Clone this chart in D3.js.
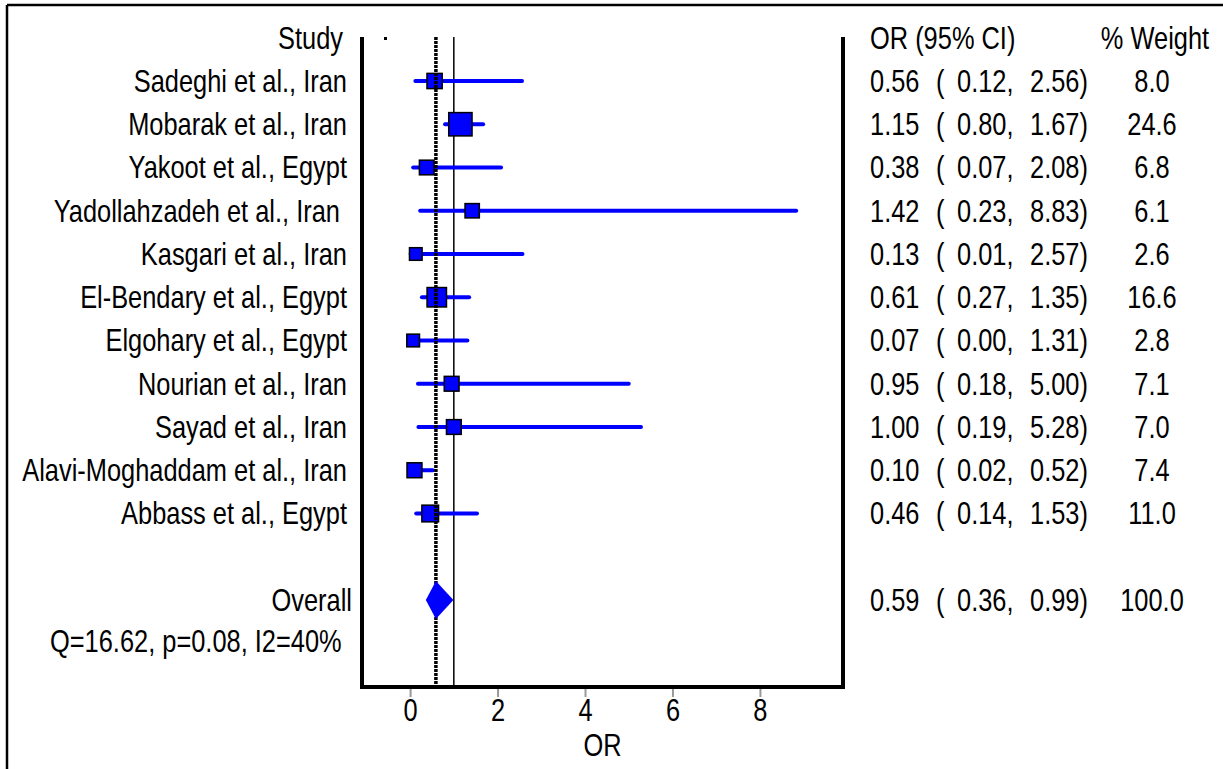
<!DOCTYPE html>
<html>
<head>
<meta charset="utf-8">
<script src="https://cdn.jsdelivr.net/npm/d3@7"></script>
<style>
  body { margin: 0; background: #fff; }
  text { font-family: "Liberation Sans Narrow", "Arial Narrow", "Liberation Sans", sans-serif; font-size: 31px; fill: #000; }
</style>
</head>
<body>
<svg id="chart" width="1223" height="769" viewBox="0 0 1223 769"></svg>
<script>
// study rows
const studies = ["Sadeghi et al., Iran", "Mobarak et al., Iran", "Yakoot et al., Egypt",
    "Yadollahzadeh et al., Iran ", "Kasgari et al., Iran", "El-Bendary et al., Egypt",
    "Elgohary et al., Egypt", "Nourian et al., Iran", "Sayad et al., Iran",
    "Alavi-Moghaddam et al., Iran", "Abbass et al., Egypt"]
const oddsRatio = [0.56, 1.15, 0.38, 1.42, 0.13, 0.61, 0.07, 0.95, 1.00, 0.10, 0.46]
const ciLower = [0.12, 0.80, 0.07, 0.23, 0.01, 0.27, 0.00, 0.18, 0.19, 0.02, 0.14]
const ciUpper = [2.56, 1.67, 2.08, 8.83, 2.57, 1.35, 1.31, 5.00, 5.28, 0.52, 1.53]
const weights = [8.0, 24.6, 6.8, 6.1, 2.6, 16.6, 2.8, 7.1, 7.0, 7.4, 11.0]
const overall = [0.59, 0.36, 0.99, 100.0]   // OR, lower, upper, weight
const heterogeneity = "Q=16.62, p=0.08, I2=40%"
const xTicks = [0, 2, 4, 6, 8]

let svg = d3.select("#chart")
let fmt = d3.format(".2f")
// no narrow font installed -> squeeze the regular one horizontally
const squeeze = "scale(0.82,1)"

let x = d3.scaleLinear().domain([-1.1, 9.9]).range([362, 843])
// row index -> vertical position (row 12 is the overall line)
let y = d3.scaleLinear().domain([0, 12]).range([81, 600])
let boxSize = d3.scaleLinear().domain([2.6, 24.6]).range([12.6, 23.3])

let plotTop = 37, plotBottom = 687

function addText(g, px, py, str, anchor) {
    return g.append("text")
        .attr("transform", `translate(${px},${py}) ${squeeze}`)
        .attr("text-anchor", anchor || "start")
        .attr("dy", "0.35em")
        .style("white-space", "pre")
        .text(str)
}

// outer frame (only top and left edges show)
svg.append("line").attr("x1", 7).attr("x2", 1223).attr("y1", 5).attr("y2", 5)
    .attr("stroke", "#000").attr("stroke-width", 2.5)
svg.append("line").attr("x1", 7).attr("x2", 7).attr("y1", 5).attr("y2", 769)
    .attr("stroke", "#000").attr("stroke-width", 2.5)

// plot box
let plot = svg.append("g")
plot.append("path")
    .attr("d", `M${x.range()[0]},${plotTop}V${plotBottom}H${x.range()[1]}V${plotTop}`)
    .attr("fill", "none").attr("stroke", "#000").attr("stroke-width", 4)

// axis
let axis = svg.append("g")
    .attr("transform", `translate(0,${plotBottom + 2})`)
    .call(d3.axisBottom(x).tickValues(xTicks).tickSize(8).tickPadding(2).tickFormat(d3.format("d")))
axis.select(".domain").remove()
axis.selectAll(".tick line").attr("stroke", "#999").attr("stroke-width", 2)
axis.selectAll(".tick text").attr("font-size", null).attr("font-family", null).attr("transform", squeeze)
addText(svg, (x.range()[0] + x.range()[1]) / 2, 745, "OR", "middle")

// null line at OR = 1
plot.append("line").attr("x1", x(1)).attr("x2", x(1)).attr("y1", plotTop).attr("y2", plotBottom)
    .attr("stroke", "#000").attr("stroke-width", 1.5)

// confidence intervals
plot.selectAll(".ci").data(studies).enter().append("line")
    .attr("x1", (d, i) => x(ciLower[i]))
    .attr("x2", (d, i) => x(ciUpper[i]))
    .attr("y1", (d, i) => y(i)).attr("y2", (d, i) => y(i))
    .attr("stroke", "#0000ff").attr("stroke-width", 4).attr("stroke-linecap", "round")

// weight boxes
plot.selectAll(".box").data(studies).enter().append("rect")
    .attr("x", (d, i) => x(oddsRatio[i]) - boxSize(weights[i]) / 2)
    .attr("y", (d, i) => y(i) - boxSize(weights[i]) / 2)
    .attr("width", (d, i) => boxSize(weights[i]))
    .attr("height", (d, i) => boxSize(weights[i]))
    .attr("fill", "#0000ff").attr("stroke", "#000").attr("stroke-width", 1.5)

// overall estimate line (dotted)
plot.append("line").attr("x1", x(overall[0])).attr("x2", x(overall[0])).attr("y1", plotTop).attr("y2", plotBottom)
    .attr("stroke", "#000").attr("stroke-width", 3.5).attr("stroke-dasharray", "3 1")

// overall diamond
let yo = y(12)
plot.append("path")
    .attr("d", `M${x(overall[1])},${yo}L${x(overall[0])},${yo - 19}L${x(overall[2])},${yo}L${x(overall[0])},${yo + 19}Z`)
    .attr("fill", "#0000ff")

// stray mark from the original output
plot.append("rect").attr("x", 384).attr("y", 37).attr("width", 3).attr("height", 3).attr("fill", "#000")

// left labels
addText(svg, 343, y(-1), "Study", "end")
studies.forEach((d, i) => addText(svg, 347, y(i), d, "end"))
addText(svg, 352, y(12), "Overall", "end")
addText(svg, 50, y(12.95), heterogeneity)

// right columns
addText(svg, 870, y(-1), "OR (95% CI)")
addText(svg, 1155, y(-1), "% Weight", "middle")

let rows = studies.map((d, i) => [oddsRatio[i], ciLower[i], ciUpper[i], weights[i], i])
rows.push([overall[0], overall[1], overall[2], overall[3], 12])

rows.forEach(r => {
    let py = y(r[4])
    addText(svg, 870, py, fmt(r[0]))
    addText(svg, 936, py, "(")
    addText(svg, 957, py, fmt(r[1]) + ",")
    addText(svg, 1030, py, fmt(r[2]) + ")")
    addText(svg, 1152, py, d3.format(".1f")(r[3]), "middle")
})
</script>
</body>
</html>
